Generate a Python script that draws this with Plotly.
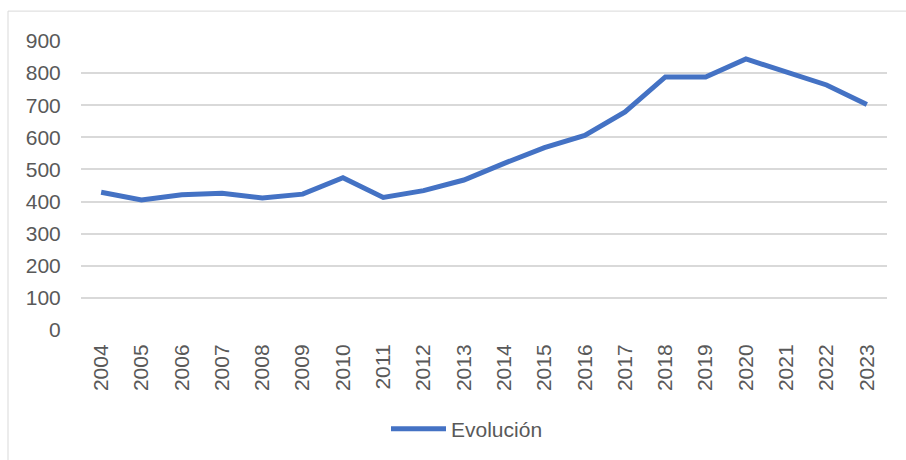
import plotly.graph_objects as go

years = ["2004", "2005", "2006", "2007", "2008", "2009", "2010", "2011", "2012", "2013",
         "2014", "2015", "2016", "2017", "2018", "2019", "2020", "2021", "2022", "2023"]
values = [429, 405, 421, 426, 411, 423, 474, 413, 434, 467,
          519, 568, 606, 679, 788, 788, 844, 805, 763, 702]
series_name = "Evolución"
y_ticks = [0, 100, 200, 300, 400, 500, 600, 700, 800, 900]

W, H = 906, 460
L, R, T, B = 81, 19, 41, 129
pw, ph = W - L - R, H - T - B

def px_x(p):
    return (p - L) / pw

def px_y(p):
    return (H - B - p) / ph

fig = go.Figure()
fig.add_trace(go.Scatter(
    x=years, y=values, mode="lines", name=series_name,
    line=dict(color="#4472c4", width=5, shape="linear"),
    showlegend=True,
))

font = dict(family="Liberation Sans, Arial, sans-serif", size=21, color="#595959")

fig.update_layout(
    width=W, height=H,
    margin=dict(l=L, r=R, t=T, b=B),
    paper_bgcolor="white", plot_bgcolor="white",
    font=font,
    showlegend=True,
    legend=dict(orientation="h", x=px_x(467), xanchor="center", y=px_y(429), yanchor="middle",
                font=font, itemwidth=55, bgcolor="rgba(0,0,0,0)"),
    xaxis=dict(type="category", tickangle=-90, showgrid=False, zeroline=False,
               showline=False, ticks="outside", ticklen=5, tickcolor="rgba(0,0,0,0)",
               tickfont=font, range=[-0.5, len(years) - 0.5]),
    yaxis=dict(range=[0, 900], tickvals=y_ticks, showgrid=True, gridcolor="#d9d9d9",
               gridwidth=1.5, zeroline=False, showline=False, ticks="outside", ticklen=15,
               tickcolor="rgba(0,0,0,0)", tickfont=font),
    shapes=[dict(type="rect", xref="paper", yref="paper",
                 x0=px_x(8), x1=px_x(W + 20), y0=px_y(H + 20), y1=px_y(11),
                 line=dict(color="#d9d9d9", width=1), fillcolor="rgba(0,0,0,0)", layer="below")],
)

fig.write_html("out.html", config={"displayModeBar": False},
               post_script="document.body.style.margin='0';document.body.style.overflow='hidden';")
